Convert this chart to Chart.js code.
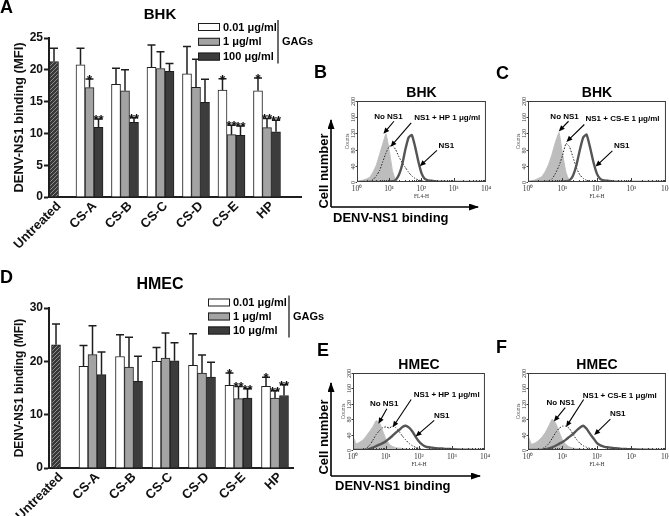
<!DOCTYPE html>
<html>
<head>
<meta charset="utf-8">
<script src="https://cdn.jsdelivr.net/npm/chart.js@4.4.1/dist/chart.umd.min.js"></script>
<style>
  body { margin: 0; background: #fff; }
  #fig { position: relative; width: 669px; height: 516px; overflow: hidden; font-family: "Liberation Sans", Arial, sans-serif; color: #000; }
  #fig canvas { position: absolute; }
  .tag { position: absolute; font-weight: bold; font-size: 18px; line-height: 18px; }
  .axnote { position: absolute; font-weight: bold; font-size: 13px; line-height: 13px; white-space: nowrap; }
  .rot { transform: translate(-50%, -50%) rotate(-90deg); }
</style>
</head>
<body>
<div id="fig">
  <canvas id="barA" width="320" height="252" style="left:0;top:0"></canvas>
  <canvas id="barD" width="330" height="261" style="left:0;top:255px"></canvas>

  <div class="tag" style="left:0;top:-2px">A</div>
  <div class="tag" style="left:314px;top:63px">B</div>
  <div class="tag" style="left:496px;top:64px">C</div>
  <div class="tag" style="left:0;top:268px">D</div>
  <div class="tag" style="left:317px;top:341px">E</div>
  <div class="tag" style="left:496px;top:338px">F</div>

  <div class="axnote rot" style="left:323px;top:171px">Cell number</div>
  <div class="axnote" style="left:333px;top:211px">DENV-NS1 binding</div>
  <div class="axnote rot" style="left:323px;top:437px">Cell number</div>
  <div class="axnote" style="left:335px;top:479px">DENV-NS1 binding</div>

  <svg width="669" height="516" style="position:absolute;left:0;top:0;pointer-events:none">
    <defs>
      <marker id="ah" markerWidth="10" markerHeight="7" refX="9" refY="3.5" orient="auto" markerUnits="userSpaceOnUse">
        <path d="M0,0 L10,3.5 L0,7 z" fill="#000"/>
      </marker>
    </defs>
    <path d="M331,207 L331,120" stroke="#000" stroke-width="1.6" fill="none" marker-end="url(#ah)"/>
    <path d="M331,207 L478,207" stroke="#000" stroke-width="1.6" fill="none" marker-end="url(#ah)"/>
    <path d="M331,476 L331,383" stroke="#000" stroke-width="1.6" fill="none" marker-end="url(#ah)"/>
    <path d="M331,476 L480,476" stroke="#000" stroke-width="1.6" fill="none" marker-end="url(#ah)"/>
  </svg>
</div>

<script>
const FONT = '"Liberation Sans", Arial, sans-serif';
const SERIF = '"Liberation Serif", "Times New Roman", serif';

// ---- bar panels: DENV-NS1 binding (MFI) ----
const categories = ['Untreated', 'CS-A', 'CS-B', 'CS-C', 'CS-D', 'CS-E', 'HP'];
const doseLabelsBHK = ['0.01 μg/ml', '1 μg/ml', '100 μg/ml'];
const doseLabelsHMEC = ['0.01 μg/ml', '1 μg/ml', '10 μg/ml'];
const noStars = ['', '', '', '', '', '', ''];

// A - BHK
const bhkUntreated    = [21.3, null, null, null, null, null, null];
const bhkUntreatedErr = [2.1, 0, 0, 0, 0, 0, 0];
const bhkLow      = [null, 20.8, 17.7, 20.4, 19.35, 16.8, 16.7];
const bhkLowErr   = [0, 2.6, 2.55, 3.5, 4.3, 1.8, 2.0];
const bhkMid      = [null, 17.2, 16.7, 20.2, 17.25, 9.8, 10.9];
const bhkMidErr   = [0, 1.35, 3.3, 2.65, 4.4, 1.5, 1.45];
const bhkHigh     = [null, 10.95, 11.75, 19.75, 14.9, 9.7, 10.25];
const bhkHighErr  = [0, 1.3, 0.7, 1.25, 3.6, 1.45, 1.8];
const bhkLowStars  = ['', '', '', '', '', '*', '*'];
const bhkMidStars  = ['', '*', '', '', '', '**', '**'];
const bhkHighStars = ['', '**', '**', '', '', '**', '**'];

// D - HMEC
const hmecUntreated    = [23.1, null, null, null, null, null, null];
const hmecUntreatedErr = [3.9, 0, 0, 0, 0, 0, 0];
const hmecLow      = [null, 19.06, 20.9, 20.0, 19.25, 15.5, 15.3];
const hmecLowErr   = [0, 3.9, 4.1, 2.6, 5.9, 2.3, 1.7];
const hmecMid      = [null, 21.25, 18.9, 20.6, 17.8, 13.0, 13.1];
const hmecMidErr   = [0, 5.4, 5.6, 4.7, 3.4, 2.3, 1.4];
const hmecHigh     = [null, 17.5, 16.25, 20.1, 17.06, 13.1, 13.6];
const hmecHighErr  = [0, 4.25, 4.7, 3.4, 2.75, 1.75, 2.0];
const hmecLowStars  = ['', '', '', '', '', '*', '*'];
const hmecMidStars  = ['', '', '', '', '', '**', '**'];
const hmecHighStars = ['', '', '', '', '', '**', '**'];

// ---- flow cytometry histograms (FL4-H vs counts) ----
const fl4Channels = [1, 1.26, 1.58, 2, 2.51, 3.16, 3.98, 5.01, 6.31, 7.94,
  10, 12.6, 15.8, 20, 25.1, 31.6, 39.8, 50.1, 63.1, 79.4,
  100, 126, 158, 200, 251, 316, 398, 501, 631, 794,
  1000, 2000, 5000, 10000];
const decadeTicks = [1, 10, 100, 1000, 10000];
const decadeLabels = ['10⁰', '10¹', '10²', '10³', '10⁴'];
const countTicks = [0, 40, 80, 120, 160, 200];

// B - BHK, heparin
const bhkNoNS1B = [0,3,5,8,12, 25,42,68,95,119, 78,28,4,1,0, 0,0,0,0,0, 0,0,0,0,0, 0,0,0,0,0, 0,0,0,0];
const bhkHP     = [0,0,0,1,2, 6,15,28,50,72, 88,90,80,62,48, 36,24,15,9,5, 3,1,0,0,0, 0,0,0,0,0, 0,0,0,0];
const bhkNS1B   = [0,0,0,0,0, 0,0,0,0,0, 1,2,5,18,42, 80,110,116,88,52, 22,8,4,3,2, 1,1,1,0,0, 0,0,0,0];
// C - BHK, CS-E
const bhkNoNS1C = [0,3,5,9,13, 26,44,70,100,122, 70,24,3,1,0, 0,0,0,0,0, 0,0,0,0,0, 0,0,0,0,0, 0,0,0,0];
const bhkCSE    = [0,0,0,0,0, 1,3,8,22,40, 65,95,88,62,36, 18,9,4,2,1, 0,0,0,0,0, 0,0,0,0,0, 0,0,0,0];
const bhkNS1C   = [0,0,0,0,0, 0,0,0,0,0, 1,2,4,15,40, 78,110,117,85,48, 20,7,4,3,2, 1,1,0,0,0, 0,0,0,0];
// E - HMEC, heparin
const hmecNoNS1E = [35,16,20,26,36, 48,60,76,72,50, 28,15,9,6,5, 4,3,2,1,1, 0,0,0,0,0, 0,0,0,0,0, 0,0,0,0];
const hmecHP     = [0,0,0,0,4, 12,25,40,50,58, 60,57,62,58,48, 36,26,17,11,7, 4,2,1,0,0, 0,0,0,0,0, 0,0,0,0];
const hmecNS1E   = [0,0,0,0,0, 3,6,10,14,18, 23,30,37,45,52, 60,63,58,48,34, 22,14,9,7,6, 5,4,4,3,3, 2,1,0,0];
// F - HMEC, CS-E
const hmecNoNS1F = [37,15,18,24,33, 45,62,80,70,48, 26,14,8,5,4, 3,2,2,1,0, 0,0,0,0,0, 0,0,0,0,0, 0,0,0,0];
const hmecCSE    = [0,0,0,0,2, 8,16,30,45,56, 62,62,56,42,28, 18,11,7,4,2, 1,0,0,0,0, 0,0,0,0,0, 0,0,0,0];
const hmecNS1F   = [0,0,0,0,0, 2,4,7,11,16, 21,27,34,41,50, 58,63,55,42,30, 18,12,9,7,6, 5,4,3,3,2, 2,1,0,0];

const doseFills = ['#ffffff', '#a3a3a3', '#3c3c3c'];

function hatchFill() {
    const tile = document.createElement('canvas');
    tile.width = 4; tile.height = 4;
    const g = tile.getContext('2d');
    g.fillStyle = '#383838';
    g.fillRect(0, 0, 4, 4);
    g.strokeStyle = '#8c8c8c';
    g.lineWidth = 1;
    g.beginPath();
    g.moveTo(-1, 5); g.lineTo(5, -1);
    g.stroke();
    return g.createPattern(tile, 'repeat');
}

// error bars, stars, category labels, title and dose legend for the bar panels
function barDecor(cfg) {
    return {
        id: 'barDecor',
        afterDatasetsDraw(chart) {
            const ctx = chart.ctx;
            const y = chart.scales.y;
            ctx.save();
            ctx.strokeStyle = '#1e1e1e';
            ctx.fillStyle = '#111';
            ctx.lineWidth = 1.5;
            ctx.font = 'bold 13px ' + FONT;
            ctx.textAlign = 'center';
            ctx.textBaseline = 'alphabetic';
            chart.data.datasets.forEach((ds, di) => {
                chart.getDatasetMeta(di).data.forEach((bar, i) => {
                    const v = ds.data[i].y;
                    if (v === null) return;
                    const top = y.getPixelForValue(v + ds.errors[i]);
                    ctx.beginPath();
                    ctx.moveTo(bar.x, bar.y);
                    ctx.lineTo(bar.x, top);
                    ctx.moveTo(bar.x - 4, top);
                    ctx.lineTo(bar.x + 4, top);
                    ctx.stroke();
                    if (ds.stars[i]) ctx.fillText(ds.stars[i], bar.x, top + 5);
                });
            });
            ctx.restore();
        },
        afterDraw(chart) {
            const ctx = chart.ctx;
            const xs = chart.scales.x;
            const area = chart.chartArea;
            ctx.save();

            // slanted category labels
            ctx.fillStyle = '#111';
            ctx.font = 'bold 13px ' + FONT;
            ctx.textAlign = 'right';
            ctx.textBaseline = 'middle';
            categories.forEach((c, i) => {
                ctx.save();
                ctx.translate(xs.getPixelForValue(i) + 5, area.bottom + 7);
                ctx.rotate(-Math.PI / 4);
                ctx.fillText(c, 0, 0);
                ctx.restore();
            });

            ctx.fillStyle = '#000';
            ctx.textAlign = 'center';
            ctx.font = 'bold ' + cfg.titleSize + 'px ' + FONT;
            ctx.fillText(cfg.title, cfg.titleX, cfg.titleY);

            // legend
            const lg = cfg.legend;
            ctx.font = 'bold 11px ' + FONT;
            ctx.textAlign = 'left';
            ctx.strokeStyle = '#1e1e1e';
            ctx.lineWidth = 1;
            cfg.labels.forEach((lab, k) => {
                const ry = lg.y + k * lg.gap;
                ctx.fillStyle = doseFills[k];
                ctx.fillRect(lg.x, ry - 4, 22, 8);
                ctx.strokeRect(lg.x + 0.5, ry - 3.5, 21, 7);
                ctx.fillStyle = '#000';
                ctx.fillText(lab, lg.x + 25, ry + 0.5);
            });
            ctx.lineWidth = 1.3;
            ctx.beginPath();
            ctx.moveTo(lg.bracket, lg.y - 7);
            ctx.lineTo(lg.bracket, lg.y + 2 * lg.gap + 7);
            ctx.stroke();
            ctx.fillText('GAGs', lg.bracket + 4, lg.y + lg.gap + 0.5);
            ctx.restore();
        }
    };
}

function makeBar(el, cfg) {
    const series = (vals, errs, stars, fill) => ({
        data: vals.map((v, i) => ({ x: i, y: v })),
        errors: errs,
        stars: stars,
        backgroundColor: fill,
        borderColor: '#1e1e1e',
        borderWidth: 1,
        barThickness: 9,
        skipNull: true
    });
    return new Chart(el, {
        type: 'bar',
        data: {
            datasets: [
                series(cfg.untreated, cfg.untreatedErr, noStars, hatchFill()),
                series(cfg.low, cfg.lowErr, cfg.lowStars, doseFills[0]),
                series(cfg.mid, cfg.midErr, cfg.midStars, doseFills[1]),
                series(cfg.high, cfg.highErr, cfg.highStars, doseFills[2])
            ]
        },
        options: {
            responsive: false,
            animation: false,
            layout: { padding: { left: 8, top: cfg.top, right: cfg.right, bottom: 0 } },
            plugins: { legend: { display: false }, tooltip: { enabled: false } },
            scales: {
                x: {
                    type: 'linear',
                    min: cfg.xMin,
                    max: cfg.xMax,
                    offset: false,
                    afterFit: s => { s.height = cfg.xHeight; },
                    grid: { display: false, drawTicks: false },
                    border: { color: '#1e1e1e', width: 2 },
                    ticks: { display: false }
                },
                y: {
                    min: 0,
                    max: cfg.yMax,
                    afterFit: s => { s.width = 41; },
                    grid: { drawOnChartArea: false, tickLength: 5, tickWidth: 2, tickColor: '#1e1e1e' },
                    border: { color: '#1e1e1e', width: 2 },
                    ticks: {
                        stepSize: cfg.yStep,
                        padding: 1,
                        color: '#111',
                        font: { family: FONT, size: 12, weight: 'bold' }
                    },
                    title: {
                        display: true,
                        text: 'DENV-NS1 binding (MFI)',
                        color: '#111',
                        padding: { top: 4, bottom: 0 },
                        font: { family: FONT, size: cfg.yTitleSize, weight: 'bold' }
                    }
                }
            }
        },
        plugins: [barDecor(cfg)]
    });
}

makeBar(document.getElementById('barA'), {
    untreated: bhkUntreated, untreatedErr: bhkUntreatedErr,
    low: bhkLow, lowErr: bhkLowErr, lowStars: bhkLowStars,
    mid: bhkMid, midErr: bhkMidErr, midStars: bhkMidStars,
    high: bhkHigh, highErr: bhkHighErr, highStars: bhkHighStars,
    labels: doseLabelsBHK,
    title: 'BHK', titleX: 160, titleY: 15, titleSize: 15,
    legend: { x: 198, y: 27, gap: 14.8, bracket: 278 },
    top: 38, right: 19, xHeight: 55, xMin: -0.141, xMax: 6.958,
    yMax: 25, yStep: 5, yTitleSize: 13
});

makeBar(document.getElementById('barD'), {
    untreated: hmecUntreated, untreatedErr: hmecUntreatedErr,
    low: hmecLow, lowErr: hmecLowErr, lowStars: hmecLowStars,
    mid: hmecMid, midErr: hmecMidErr, midStars: hmecMidStars,
    high: hmecHigh, highErr: hmecHighErr, highStars: hmecHighStars,
    labels: doseLabelsHMEC,
    title: 'HMEC', titleX: 160, titleY: 30, titleSize: 16,
    legend: { x: 208, y: 47.5, gap: 14, bracket: 289 },
    top: 53, right: 37, xHeight: 48, xMin: -0.192, xMax: 6.493,
    yMax: 30, yStep: 10, yTitleSize: 12
});

// ---- histogram panels ----
function drawArrow(ctx, x1, y1, x2, y2) {
    const a = Math.atan2(y2 - y1, x2 - x1);
    const L = 6, W = 2.6;
    ctx.beginPath();
    ctx.moveTo(x1, y1);
    ctx.lineTo(x2 - L * 0.8 * Math.cos(a), y2 - L * 0.8 * Math.sin(a));
    ctx.stroke();
    ctx.beginPath();
    ctx.moveTo(x2, y2);
    ctx.lineTo(x2 - L * Math.cos(a) + W * Math.sin(a), y2 - L * Math.sin(a) - W * Math.cos(a));
    ctx.lineTo(x2 - L * Math.cos(a) - W * Math.sin(a), y2 - L * Math.sin(a) + W * Math.cos(a));
    ctx.closePath();
    ctx.fill();
}

function histDecor(p) {
    return {
        id: 'histDecor',
        afterDraw(chart) {
            const { ctx, chartArea: a, scales: { x, y } } = chart;
            ctx.save();
            ctx.strokeStyle = '#3c3c3c';
            ctx.lineWidth = 1;
            ctx.strokeRect(a.left + 0.5, a.top + 0.5, a.width - 1, a.height - 1);

            // log ticks inside the bottom edge
            ctx.beginPath();
            for (let e = 0; e < 4; e++) {
                for (let m = 1; m < 10; m++) {
                    const px = Math.round(x.getPixelForValue(m * Math.pow(10, e))) + 0.5;
                    ctx.moveTo(px, a.bottom);
                    ctx.lineTo(px, a.bottom - (m === 1 ? 4 : 2));
                }
            }
            ctx.stroke();

            // counts axis
            ctx.fillStyle = '#333';
            ctx.textAlign = 'center';
            ctx.textBaseline = 'middle';
            ctx.font = '6px ' + SERIF;
            countTicks.forEach(v => {
                const py = Math.round(y.getPixelForValue(v)) + 0.5;
                ctx.beginPath();
                ctx.moveTo(a.left, py);
                ctx.lineTo(a.left - 1.5, py);
                ctx.stroke();
                ctx.save();
                ctx.translate(a.left - 4, py);
                ctx.rotate(-Math.PI / 2);
                ctx.fillText(String(v), 0, 0);
                ctx.restore();
            });
            ctx.font = '5.5px ' + SERIF;
            ctx.save();
            ctx.translate(a.left - 9.5, y.getPixelForValue(100));
            ctx.rotate(-Math.PI / 2);
            ctx.fillText('Counts', 0, 0);
            ctx.restore();

            // panel title
            ctx.fillStyle = '#000';
            ctx.font = 'bold 14px ' + FONT;
            ctx.fillText(p.title, (a.left + a.right) / 2, a.top - 8);

            // curve labels with arrows
            ctx.font = 'bold 8px ' + FONT;
            ctx.strokeStyle = '#000';
            ctx.lineWidth = 1.1;
            p.notes.forEach(n => {
                ctx.fillText(n.text, x.getPixelForValue(n.at[0]), y.getPixelForValue(n.at[1]));
                drawArrow(ctx,
                    x.getPixelForValue(n.from[0]), y.getPixelForValue(n.from[1]),
                    x.getPixelForValue(n.to[0]), y.getPixelForValue(n.to[1]));
            });
            ctx.restore();
        }
    };
}

function makeHist(p) {
    const [l, t, r, b] = p.box;
    const cv = document.createElement('canvas');
    cv.width = (r - l) + 22;
    cv.height = (b - t) + 43;
    cv.style.left = (l - 14) + 'px';
    cv.style.top = (t - 25) + 'px';
    document.getElementById('fig').insertBefore(cv, document.querySelector('#fig svg'));
    const pts = arr => fl4Channels.map((c, i) => ({ x: c, y: arr[i] }));
    return new Chart(cv, {
        type: 'line',
        data: {
            datasets: [
                { data: pts(p.ns1), borderColor: '#555555', borderWidth: 2.4, pointRadius: 0, fill: false, tension: 0.15 },
                { data: pts(p.treated), borderColor: '#222222', borderWidth: 1, borderDash: [1.5, 1.5], pointRadius: 0, fill: false, tension: 0.15 },
                { data: pts(p.noNS1), borderColor: '#bdbdbd', backgroundColor: '#bdbdbd', borderWidth: 1, pointRadius: 0, fill: 'origin', tension: 0.1 }
            ]
        },
        options: {
            responsive: false,
            animation: false,
            layout: { padding: { left: 14, top: 25, right: 8, bottom: 0 } },
            plugins: { legend: { display: false }, tooltip: { enabled: false } },
            scales: {
                x: {
                    type: 'logarithmic',
                    min: 1,
                    max: 10000,
                    afterBuildTicks: s => { s.ticks = decadeTicks.map(v => ({ value: v })); },
                    afterFit: s => { s.height = 18; },
                    grid: { display: false, drawTicks: false },
                    border: { display: false },
                    ticks: {
                        callback: (v, i) => decadeLabels[i],
                        autoSkip: false,
                        maxRotation: 0,
                        padding: 3,
                        color: '#333',
                        font: { family: SERIF, size: 7.5 }
                    },
                    title: { display: true, text: 'FL4-H', color: '#333', padding: 0, font: { family: SERIF, size: 5.5 } }
                },
                y: { display: false, min: 0, max: 200 }
            }
        },
        plugins: [histDecor(p)]
    });
}

makeHist({
    box: [357, 101, 486, 182], title: 'BHK',
    noNS1: bhkNoNS1B, treated: bhkHP, ns1: bhkNS1B,
    notes: [
        { text: 'No NS1', at: [9.4, 162], from: [14, 150], to: [6.6, 119] },
        { text: 'NS1 + HP 1 μg/ml', at: [630, 158], from: [48, 146], to: [11, 87] },
        { text: 'NS1', at: [590, 90], from: [302, 78], to: [89, 39] }
    ]
});
makeHist({
    box: [528, 101, 666, 182], title: 'BHK',
    noNS1: bhkNoNS1C, treated: bhkCSE, ns1: bhkNS1C,
    notes: [
        { text: 'No NS1', at: [11.5, 162], from: [15, 150], to: [7.8, 125] },
        { text: 'NS1 + CS-E 1 μg/ml', at: [550, 155], from: [43, 142], to: [13, 99] },
        { text: 'NS1', at: [520, 89], from: [280, 77], to: [91, 38] }
    ]
});
makeHist({
    box: [353, 373, 485, 450], title: 'HMEC',
    noNS1: hmecNoNS1E, treated: hmecHP, ns1: hmecNS1E,
    notes: [
        { text: 'No NS1', at: [8.8, 121], from: [10.6, 107], to: [5.9, 68] },
        { text: 'NS1 + HP 1 μg/ml', at: [690, 144], from: [58, 131], to: [16, 59] },
        { text: 'NS1', at: [490, 90], from: [290, 77], to: [79, 35] }
    ]
});
makeHist({
    box: [528, 373, 666, 450], title: 'HMEC',
    noNS1: hmecNoNS1F, treated: hmecCSE, ns1: hmecNS1F,
    notes: [
        { text: 'No NS1', at: [8.9, 123], from: [12, 110], to: [5.6, 74] },
        { text: 'NS1 + CS-E 1 μg/ml', at: [460, 142], from: [41, 131], to: [12.7, 60] },
        { text: 'NS1', at: [400, 93], from: [245, 80], to: [83, 39] }
    ]
});
</script>
</body>
</html>
